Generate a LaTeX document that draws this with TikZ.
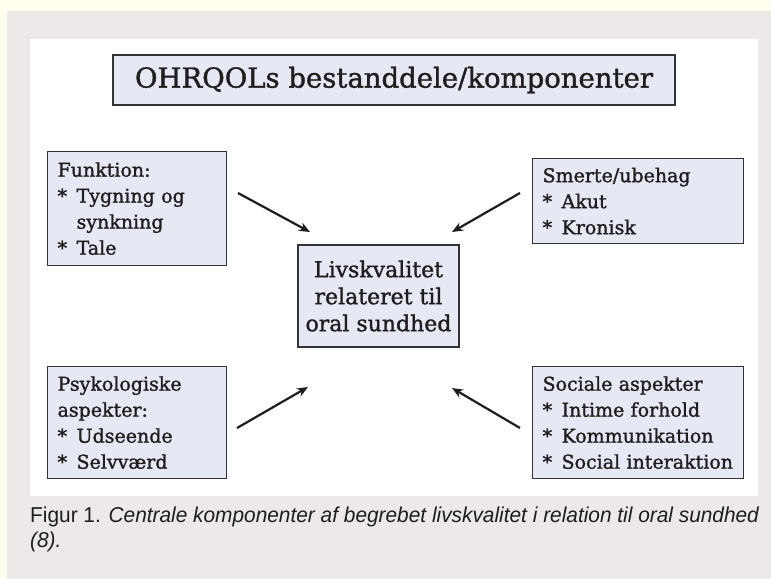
\documentclass[tikz,border=0pt]{standalone}
\usepackage{fontspec}
\setmainfont{DejaVu Serif}[FakeBold=1.3]
\setsansfont{Liberation Sans}[FakeStretch=0.97]
\usepackage{xcolor}
\usepackage{tikz}
\usetikzlibrary{arrows.meta,positioning}
\definecolor{creme}{HTML}{FFFEEF}
\definecolor{graa}{HTML}{EDE9E8}
\definecolor{lilla}{HTML}{E6E8F3}
\definecolor{kant}{HTML}{333333}
\definecolor{blaek}{HTML}{1E1E1E}
\tikzset{
  boks/.style={
    draw=kant, fill=lilla, line width=1.2pt,
    text=blaek, inner sep=0pt
  },
  sideboks/.style={
    boks, anchor=north west, align=left,
    inner xsep=10pt,
    font=\fontsize{19}{26}\selectfont
  },
  pil/.style={
    draw=blaek, line width=2.2pt,
    -{Stealth[length=11pt,width=9pt]}
  }
}
\newcommand{\punkt}{*\enspace}

\begin{document}
\begin{tikzpicture}[x=1pt, y=-1pt]
  % baggrund
  \useasboundingbox (0,0) rectangle (771,579);
  \fill[creme] (0,0) rectangle (771,579);
  \fill[graa] (7,11) rectangle (771,579);
  \fill[white] (30,39) rectangle (758,496);

  % overskrift
  \node[boks, minimum width=562pt, minimum height=50pt,
        font=\fontsize{27.5}{30}\selectfont] (titel) at (394,80)
    {OHRQOLs bestanddele/komponenter};

  % midten
  \node[boks, minimum width=161pt, minimum height=102pt, align=center,
        font=\fontsize{22}{27}\selectfont] (midte) at (378.5,296)
    {Livskvalitet\\relateret til\\oral sundhed};

  % de fire komponenter
  \node[sideboks, minimum width=179pt, minimum height=114pt, text width=159pt] (funktion) at (47,151)
    {Funktion:\\\punkt Tygning og\\\hphantom{\punkt}synkning\\\punkt Tale};
  \node[sideboks, minimum width=211pt, minimum height=85pt, text width=191pt] (smerte) at (532,158)
    {Smerte/ubehag\\\punkt Akut\\\punkt Kronisk};
  \node[sideboks, minimum width=179pt, minimum height=112pt, text width=159pt] (psyko) at (47,366)
    {Psykologiske\\aspekter:\\\punkt Udseende\\\punkt Selvværd};
  \node[sideboks, minimum width=211pt, minimum height=112pt, text width=191pt] (social) at (532,366)
    {Sociale aspekter\\\punkt Intime forhold\\\punkt Kommunikation\\\punkt Social interaktion};

  % pile mod midten
  \coordinate (funhale) at (238,193);
  \coordinate (funspids) at (310,232);
  \coordinate (smhale) at (520,193);
  \coordinate (smspids) at (452,232);
  \coordinate (pshale) at (237,428);
  \coordinate (psspids) at (308,387);
  \coordinate (sohale) at (520,428);
  \coordinate (sospids) at (452,388);
  \draw[pil] (funhale) -- (funspids);
  \draw[pil] (smhale) -- (smspids);
  \draw[pil] (pshale) -- (psspids);
  \draw[pil] (sohale) -- (sospids);

  % figurtekst
  \node[anchor=base west, inner sep=0pt, text=blaek,
        font=\sffamily\fontsize{21.5}{25}\selectfont] (figur) at (30,522)
    {Figur 1. \textit{Centrale komponenter af begrebet livskvalitet i relation til oral sundhed}};
  \node[anchor=base west, inner sep=0pt, text=blaek,
        font=\sffamily\fontsize{21.5}{25}\selectfont] (kilde) at (30,547)
    {\textit{(8).}};
\end{tikzpicture}
\end{document}
